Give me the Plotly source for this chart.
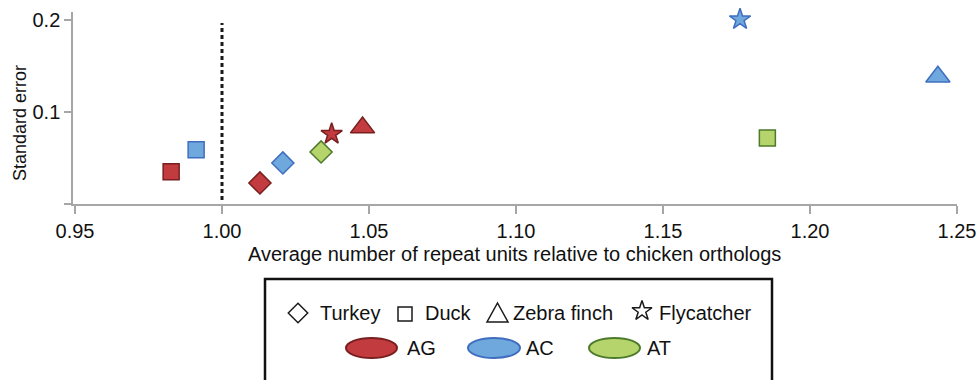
import plotly.graph_objects as go

W, H = 977, 380
FONT = "Liberation Sans, Arial, sans-serif"

# ---------------- data ----------------
species = ["Turkey", "Duck", "Zebra finch", "Flycatcher"]
species_symbols = {"Turkey": "diamond", "Duck": "square",
                   "Zebra finch": "triangle-up", "Flycatcher": "star"}
species_sizes = {"Turkey": 17, "Duck": 16, "Zebra finch": 21, "Flycatcher": 16}

ag_species = ["Turkey", "Duck", "Zebra finch", "Flycatcher"]
ag_x = [1.0129, 0.9827, 1.0478, 1.0373]
ag_y = [0.0226, 0.0349, 0.0830, 0.0760]

ac_species = ["Turkey", "Duck", "Zebra finch", "Flycatcher"]
ac_x = [1.0207, 0.9912, 1.2435, 1.1762]
ac_y = [0.0444, 0.0589, 0.1385, 0.2010]

at_species = ["Turkey", "Duck"]
at_x = [1.0337, 1.1855]
at_y = [0.0564, 0.0716]

repeat_types = ["AG", "AC", "AT"]
fill_colors = {"AG": "#C23B3E", "AC": "#6FA8DC", "AT": "#B5D46C"}
line_colors = {"AG": "#7A1F1F", "AC": "#3F6EC0", "AT": "#4D7A2B"}

x_ticks = [0.95, 1.00, 1.05, 1.10, 1.15, 1.20, 1.25]
x_tick_labels = ["0.95", "1.00", "1.05", "1.10", "1.15", "1.20", "1.25"]
y_ticks = [0.0, 0.1, 0.2]
y_tick_labels = ["", "0.1", "0.2"]

ref_x = [1.0, 1.0]
ref_y = [0.004, 0.197]

x_title = "Average number of repeat units relative to chicken orthologs"
y_title = "Standard error"

# ---------------- figure ----------------
fig = go.Figure()

fig.add_trace(go.Scatter(x=ref_x, y=ref_y, mode="lines",
                         line=dict(color="#1a1a1a", width=3, dash="4px,3px"),
                         hoverinfo="skip", showlegend=False))

series = {"AT": (at_species, at_x, at_y),
          "AC": (ac_species, ac_x, ac_y),
          "AG": (ag_species, ag_x, ag_y)}
for rt in ["AT", "AC", "AG"]:
    sp, xs, ys = series[rt]
    fig.add_trace(go.Scatter(
        x=xs, y=ys, mode="markers", name=rt, text=sp,
        cliponaxis=False, showlegend=False,
        marker=dict(symbol=[species_symbols[s] for s in sp],
                    size=[species_sizes[s] for s in sp],
                    color=fill_colors[rt], opacity=1,
                    line=dict(color=line_colors[rt], width=1.5))))

# ---------------- custom legend (page-pixel overlay axes) ----------------
leg_row1_y = 313
leg_row2_y = 348
leg_symbols = [("Turkey", "diamond-open", 298, 313, 15, 318),
               ("Duck", "square-open", 405, 314, 14, 423),
               ("Zebra finch", None, 497.5, 313, 0, 511),
               ("Flycatcher", "star-open", 642, 311, 15, 657)]
for name, sym, cx, cy, sz, tx in leg_symbols:
    if sym is not None:
        fig.add_trace(go.Scatter(x=[cx], y=[cy], mode="markers", xaxis="x2", yaxis="y2",
                                 marker=dict(symbol=sym, size=sz, color="#1a1a1a", opacity=1,
                                             line=dict(color="#1a1a1a", width=1.5)),
                                 hoverinfo="skip", showlegend=False, cliponaxis=False))

shapes = []
shapes.append(dict(type="path", xref="x2", yref="y2",
                   path="M 487 322 L 508 322 L 497.5 303 Z",
                   line=dict(color="#1a1a1a", width=1.5), fillcolor="rgba(0,0,0,0)"))
shapes.append(dict(type="rect", xref="x2", yref="y2", x0=265, x1=772, y0=279, y1=400,
                   line=dict(color="#111111", width=2.5), fillcolor="rgba(0,0,0,0)"))
ellipses = [("AG", 346, 397, 405), ("AC", 468, 520, 524), ("AT", 589, 640, 645)]
for rt, ex0, ex1, tx in ellipses:
    shapes.append(dict(type="circle", xref="x2", yref="y2", x0=ex0, x1=ex1,
                       y0=leg_row2_y - 10, y1=leg_row2_y + 10,
                       fillcolor=fill_colors[rt], line=dict(color=line_colors[rt], width=2)))

annotations = []
for name, sym, cx, cy, sz, tx in leg_symbols:
    annotations.append(dict(xref="x2", yref="y2", x=tx, y=leg_row1_y, text=name,
                            showarrow=False, xanchor="left", yanchor="middle",
                            font=dict(family=FONT, size=20, color="#111111")))
for rt, ex0, ex1, tx in ellipses:
    annotations.append(dict(xref="x2", yref="y2", x=tx, y=leg_row2_y, text=rt,
                            showarrow=False, xanchor="left", yanchor="middle",
                            font=dict(family=FONT, size=20, color="#111111")))
annotations.append(dict(xref="x2", yref="y2", x=514, y=254, text=x_title,
                        showarrow=False, xanchor="center", yanchor="middle",
                        font=dict(family=FONT, size=20, color="#111111")))
annotations.append(dict(xref="x2", yref="y2", x=20, y=123, text=y_title, textangle=-90,
                        showarrow=False, xanchor="center", yanchor="middle",
                        font=dict(family=FONT, size=18, color="#111111")))


def fx(px):
    return px / W


def fy(py):
    return (H - py) / H


axis_gray = "#A6A6A6"
fig.update_layout(
    width=W, height=H,
    margin=dict(l=0, r=0, t=0, b=0, pad=0),
    paper_bgcolor="white", plot_bgcolor="rgba(0,0,0,0)",
    font=dict(family=FONT, size=20, color="#111111"),
    showlegend=False,
    xaxis=dict(domain=[fx(73.3), fx(957)], range=[0.94942, 1.25], anchor="y",
               showgrid=False, zeroline=False, showline=True, linecolor=axis_gray,
               linewidth=2, ticks="outside", ticklen=8, tickwidth=2, tickcolor=axis_gray,
               tickvals=x_ticks, ticktext=x_tick_labels, automargin=False,
               tickfont=dict(family=FONT, size=20, color="#111111"), fixedrange=True),
    yaxis=dict(domain=[fy(203.7), fy(12)], range=[0, 0.20905], anchor="x",
               showgrid=False, zeroline=False, showline=True, linecolor=axis_gray,
               linewidth=2, ticks="outside", ticklen=7, tickwidth=2, tickcolor=axis_gray,
               tickvals=y_ticks, ticktext=y_tick_labels, automargin=False,
               tickfont=dict(family=FONT, size=20, color="#111111"), fixedrange=True),
    xaxis2=dict(domain=[0, 1], range=[0, W], anchor="y2", visible=False, fixedrange=True),
    yaxis2=dict(domain=[0, 1], range=[H, 0], anchor="x2", visible=False, fixedrange=True),
    shapes=shapes, annotations=annotations,
)

fig.write_html("out.html", config={"displayModeBar": False, "staticPlot": True},
               post_script="document.body.style.margin='0';document.body.style.overflow='hidden';")
